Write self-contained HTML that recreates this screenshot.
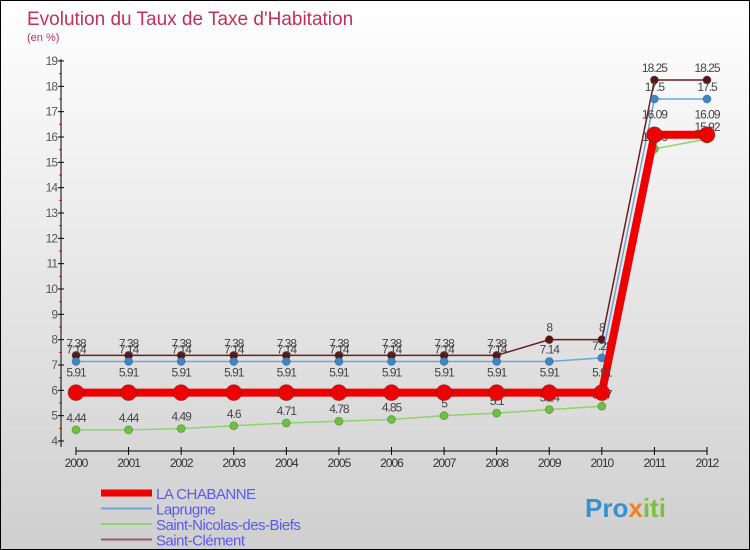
<!DOCTYPE html>
<html><head><meta charset="utf-8"><style>
body{margin:0}
#c{width:750px;height:550px;position:relative;overflow:hidden;box-sizing:border-box;border:1px solid #000;background:linear-gradient(#fff,#cfcfcf);font-family:"Liberation Sans",sans-serif}
</style></head><body>
<div id="c">
<svg id="s" width="750" height="550" style="position:absolute;left:0;top:0">
<text x="26" y="24" font-size="19" fill="#c0305a">Evolution du Taux de Taxe d'Habitation</text>
<text x="26" y="40" font-size="11" fill="#c0305a">(en %)</text>
<g id="g"></g>
<text x="584" y="516" font-size="26" font-weight="bold" fill="#3a8fd0">Pro<tspan fill="#f08020">x</tspan><tspan fill="#7cc040">iti</tspan></text>
</svg>
</div>
<script>
const years=[2000,2001,2002,2003,2004,2005,2006,2007,2008,2009,2010,2011,2012];
const yTicks=[4,5,6,7,8,9,10,11,12,13,14,15,16,17,18,19];
const chabanne=[5.91,5.91,5.91,5.91,5.91,5.91,5.91,5.91,5.91,5.91,5.91,16.09,16.09];
const laprugne=[7.14,7.14,7.14,7.14,7.14,7.14,7.14,7.14,7.14,7.14,7.28,17.5,17.5];
const nicolas=[4.44,4.44,4.49,4.6,4.71,4.78,4.85,5,5.1,5.24,5.37,15.53,15.92];
const clement=[7.38,7.38,7.38,7.38,7.38,7.38,7.38,7.38,7.38,8,8,18.25,18.25];
const names=["LA CHABANNE","Laprugne","Saint-Nicolas-des-Biefs","Saint-Clément"];
const NS="http://www.w3.org/2000/svg",g=document.getElementById('g');
const X=i=>75+i*(706-75)/12, Y=v=>440-(v-4)*(380/15);
function el(t,a,p){const e=document.createElementNS(NS,t);for(const k in a)e.setAttribute(k,a[k]);(p||g).appendChild(e);return e;}
let e=el('line',{x1:60,y1:Y(19)-2,x2:60,y2:446,stroke:'#000'});


e=el('line',{x1:75,y1:450,x2:706,y2:450,stroke:'#000'});


yTicks.forEach(v=>{el('line',{x1:57,y1:Y(v),x2:63,y2:Y(v),stroke:'#000'});
 if(v<19)el('line',{x1:58,y1:Y(v+0.5),x2:61,y2:Y(v+0.5),stroke:'#f00'});
 const t=el('text',{x:56,y:Y(v)+4,'font-size':12,fill:'#555','text-anchor':'end','letter-spacing':'-1'});t.textContent=v;
 
 });
years.forEach((y,i)=>{el('line',{x1:X(i),y1:446,x2:X(i),y2:454,stroke:'#000'});
 const t=el('text',{x:X(i),y:466,'font-size':12,fill:'#333','text-anchor':'middle','letter-spacing':'-1'});t.textContent=y;
 
 });
const series=[[clement,'#6b1e1e','#5a1515',1.5,4],[laprugne,'#6fa5d8','#3a88c8',1.5,4],[nicolas,'#8ed46a','#6cc23a',1.5,4],[chabanne,'#ee0000','#ee0000',8,8]];
const sn=['saint-clement','laprugne','saint-nicolas','la-chabanne'];
series.forEach((s,k)=>{const [d,lc,pc,w,r]=s;
 const p=el('polyline',{points:d.map((v,i)=>X(i)+','+Y(v)).join(' '),fill:'none',stroke:lc,'stroke-width':w});
 
 
 d.forEach((v,i)=>{const c=el('circle',{cx:X(i),cy:Y(v),r:r,fill:pc,stroke:'#333','stroke-opacity':0.3});
  
  
  const t=el('text',{x:X(i),y:Y(v)-(k==3?16:8),'font-size':12,fill:'#444','text-anchor':'middle','letter-spacing':'-1'});t.textContent=v;
  
  });});
const lc=['#ee0000','#6fa5d8','#8ed46a','#8a6060'],lw=[7,2,2,2];
names.forEach((n,i)=>{const y=492+i*15.5;
 const l=el('line',{x1:100,y1:y,x2:151,y2:y,stroke:lc[i],'stroke-width':lw[i]});
 
 
 const t=el('text',{x:155,y:y+6,'font-size':15,fill:'#5a5aee','letter-spacing':'-0.5'});t.textContent=n;
 
 });
</script>
</body></html>
